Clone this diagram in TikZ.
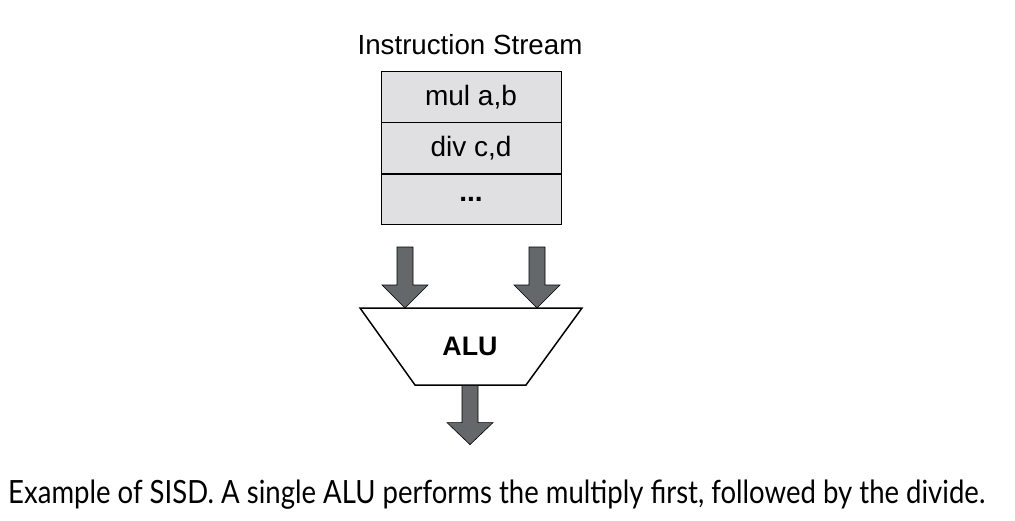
\documentclass[tikz,border=0pt]{standalone}
\usepackage{fontspec}
\setmainfont{Liberation Sans}
\newfontfamily\capfont{Lato}
\begin{document}
\begin{tikzpicture}[x=1pt,y=-1pt,
  cell/.style={draw=black, line width=0.8pt, fill=cellgray, minimum width=180pt, minimum height=50.5pt, inner sep=0pt, font=\fontsize{28}{32}\selectfont},
  fatarrow/.style={draw=black, line width=0.6pt, fill=arrowgray},
  pics/downarrow/.style args={#1/#2}{code={
    \draw[fatarrow] (-8,0) -- (8,0) -- (8,#1) -- (23,#1) -- (0,#2) -- (-23,#1) -- (-8,#1) -- cycle;
  }}]
\definecolor{cellgray}{HTML}{E0E0E2}
\definecolor{arrowgray}{HTML}{65686B}
\useasboundingbox (0,0) rectangle (1015,520);
\fill[white] (0,0) rectangle (1015,520);
% title
\node[font=\fontsize{27.7}{32}\selectfont, anchor=base] (title) at (470,54) {Instruction Stream};
% stack
\node[cell, anchor=north] (c1) at (471,71) {mul a,b};
\node[cell, anchor=north] (c2) at (c1.south) {div c,d};
\node[cell, anchor=north] (c3) at (c2.south) {\textbf{...}};
% input arrows
\pic at (405,247) {downarrow={38/61}};
\pic at (537,247) {downarrow={38/61}};
% ALU
\coordinate (tl) at (360,308);
\coordinate (tr) at (582,308);
\coordinate (br) at (526,385);
\coordinate (bl) at (415,385);
\draw[line width=1.5pt, fill=white] (tl) -- (tr) -- (br) -- (bl) -- cycle;
\node[font=\bfseries\fontsize{26.8}{30}\selectfont] (alu) at (470,346) {ALU};
% output arrow
\pic at (470,385.6) {downarrow={37/59}};
% caption
\node[anchor=base west, inner sep=0pt, font=\capfont\fontsize{32}{36}\selectfont] (cap) at (8,503)
  {\resizebox{977pt}{\height}{Example of SISD. A single ALU performs the multiply first, followed by the divide.}};
\end{tikzpicture}
\end{document}
